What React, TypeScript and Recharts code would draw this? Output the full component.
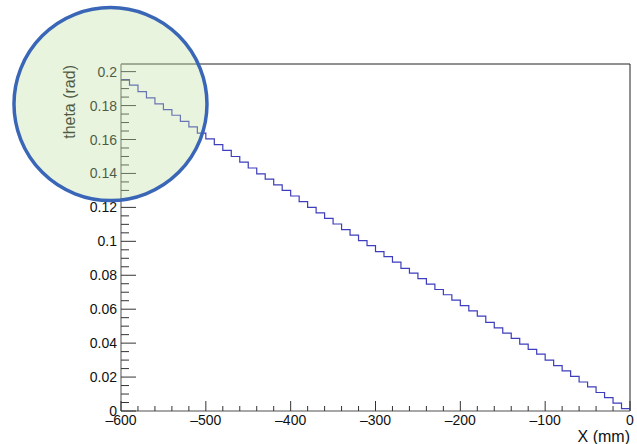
import { LineChart, Line, XAxis, YAxis, ReferenceLine, ReferenceDot } from 'recharts';

// bin low edges (mm), 10 mm wide bins from -600 to 0
const binEdges = [
  -600, -590, -580, -570, -560, -550, -540, -530, -520, -510,
  -500, -490, -480, -470, -460, -450, -440, -430, -420, -410,
  -400, -390, -380, -370, -360, -350, -340, -330, -320, -310,
  -300, -290, -280, -270, -260, -250, -240, -230, -220, -210,
  -200, -190, -180, -170, -160, -150, -140, -130, -120, -110,
  -100, -90, -80, -70, -60, -50, -40, -30, -20, -10,
];

// theta (rad) per bin
const thetaValues = [
  0.1953, 0.192, 0.1882, 0.1845, 0.181, 0.1776, 0.1743, 0.1707, 0.1674, 0.1638,
  0.1604, 0.157, 0.1536, 0.15, 0.1467, 0.1432, 0.1398, 0.1367, 0.1333, 0.13,
  0.1267, 0.1234, 0.12, 0.1168, 0.1135, 0.1102, 0.1069, 0.1036, 0.1004, 0.0975,
  0.0939, 0.091, 0.0877, 0.0841, 0.0812, 0.078, 0.0748, 0.0716, 0.0685, 0.0653,
  0.0621, 0.059, 0.0559, 0.0522, 0.049, 0.0459, 0.0428, 0.0394, 0.0363, 0.0335,
  0.03, 0.0268, 0.0236, 0.0204, 0.0171, 0.0142, 0.0109, 0.0079, 0.0047, 0.0014,
];

const xMajorTicks = [-600, -500, -400, -300, -200, -100, 0];
const yMajorLabels = ['0', '0.02', '0.04', '0.06', '0.08', '0.1', '0.12', '0.14', '0.16', '0.18', '0.2'];

const X_MIN = -600;
const X_MAX = 0;
const Y_MAX = 0.2045;

const FONT = '"Liberation Sans", Arial, Helvetica, sans-serif';

// step data: one point per bin edge, last edge repeats the last bin
const data = binEdges.map((x, i) => ({ x, theta: thetaValues[i] }));
data.push({ x: X_MAX, theta: thetaValues[thetaValues.length - 1] });

const xTicks: number[] = [];
for (let v = X_MIN; v <= X_MAX; v += 20) xTicks.push(v);
const yTicks: number[] = [];
for (let i = 0; i <= 40; i++) yTicks.push(Math.round(i * 0.005 * 1000) / 1000);

const XTick = (props: any) => {
  const { x, y, payload } = props;
  const major = xMajorTicks.includes(payload.value);
  const label = payload.value < 0 ? '\u2013' + Math.abs(payload.value) : '0';
  return (
    <g>
      <line x1={x} x2={x} y1={y} y2={y - (major ? 10 : 5)} stroke="#333" strokeWidth={1} />
      {major && (
        <text x={x} y={y + 14} textAnchor="middle" fontFamily={FONT} fontSize={14} fill="#111">
          {label}
        </text>
      )}
    </g>
  );
};

const YTick = (props: any) => {
  const { x, y, payload } = props;
  const idx = Math.round(payload.value / 0.005);
  const major = idx % 4 === 0;
  return (
    <g>
      <line x1={x} x2={x + (major ? 15 : 8)} y1={y} y2={y} stroke="#333" strokeWidth={1} />
      {major && (
        <text x={x - 4} y={y} dy={5} textAnchor="end" fontFamily={FONT} fontSize={14} fill="#111">
          {yMajorLabels[idx / 4]}
        </text>
      )}
    </g>
  );
};

export default function App() {
  return (
    <div style={{ position: 'absolute', left: 0, top: 0, width: 637, height: 444, background: '#fff' }}>
      <LineChart width={637} height={444} data={data} margin={{ top: 64, right: 7, bottom: 3, left: 61 }}>
        <XAxis
          type="number"
          dataKey="x"
          domain={[X_MIN, X_MAX]}
          ticks={xTicks}
          interval={0}
          tickSize={0}
          tickMargin={0}
          tickLine={false}
          tick={<XTick />}
          height={30}
          axisLine={{ stroke: '#8a8a8a', strokeWidth: 1.5 }}
          allowDataOverflow
          label={{
            content: () => (
              <text x={630} y={442} textAnchor="end" fontFamily={FONT} fontSize={16} fill="#111">
                X (mm)
              </text>
            ),
          }}
        />
        <YAxis
          type="number"
          domain={[0, Y_MAX]}
          ticks={yTicks}
          interval={0}
          tickSize={0}
          tickMargin={0}
          tickLine={false}
          tick={<YTick />}
          width={60}
          axisLine={{ stroke: '#8a8a8a', strokeWidth: 1.5 }}
          allowDataOverflow
          label={{
            content: () => (
              <text
                x={75}
                y={65}
                textAnchor="end"
                transform="rotate(-90, 75, 65)"
                fontFamily={FONT}
                fontSize={16}
                fill="#111"
              >
                theta (rad)
              </text>
            ),
          }}
        />
        <ReferenceLine y={Y_MAX} stroke="#222" strokeWidth={1} ifOverflow="visible" />
        <ReferenceLine x={X_MAX} stroke="#222" strokeWidth={1} ifOverflow="visible" />
        <Line
          type="stepAfter"
          dataKey="theta"
          stroke="#3d3dbd"
          strokeWidth={1.2}
          dot={false}
          isAnimationActive={false}
        />
        <ReferenceDot
          x={-612.4}
          y={0.1809}
          r={96.5}
          fill="rgba(189,224,161,0.35)"
          stroke="#3a66b8"
          strokeWidth={3.5}
          ifOverflow="visible"
          zIndex={2500}
        />
      </LineChart>
    </div>
  );
}
